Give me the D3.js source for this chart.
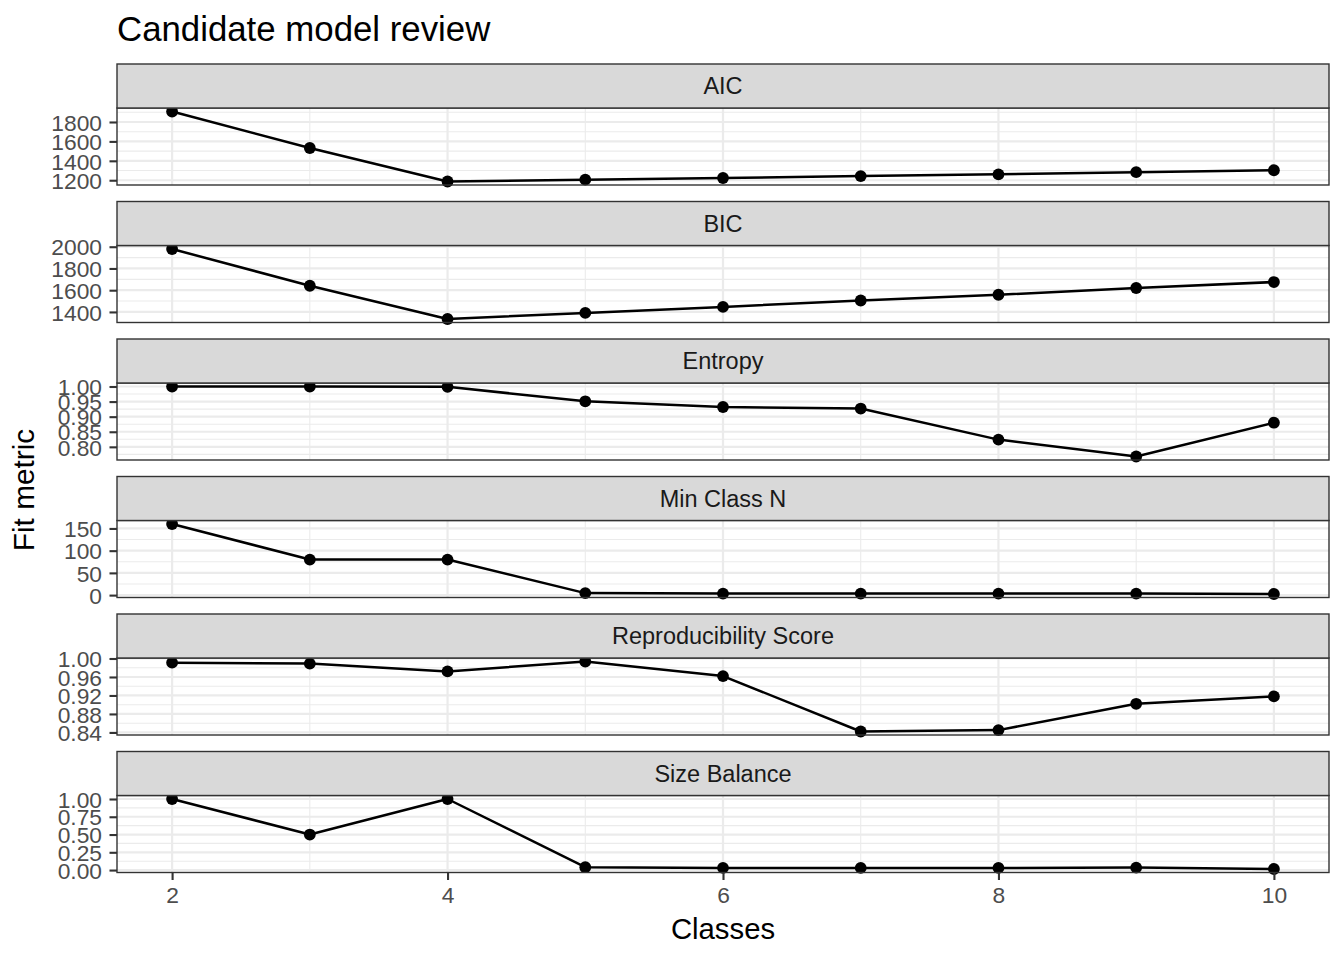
<!DOCTYPE html>
<html>
<head>
<meta charset="utf-8">
<script src="https://cdn.jsdelivr.net/npm/d3@7"></script>
<style>
  html, body { margin: 0; padding: 0; background: #ffffff; }
  svg { display: block; font-family: "Liberation Sans", Arial, Helvetica, sans-serif; }
</style>
</head>
<body>
<svg id="chart" width="1344" height="960"></svg>
<script>
// ---- data ----
const chartTitle = "Candidate model review";
const xTitle = "Classes";
const yTitle = "Fit metric";
const classes = [2, 3, 4, 5, 6, 7, 8, 9, 10];
const xTicks = [2, 4, 6, 8, 10];
const facetNames = ["AIC", "BIC", "Entropy", "Min Class N", "Reproducibility Score", "Size Balance"];

const aicValues = [1908, 1532, 1187, 1206, 1223, 1243, 1261, 1283, 1303];
const bicValues = [1979, 1641, 1335, 1391, 1446, 1505, 1558, 1620, 1675];
const entropyValues = [1.000, 1.000, 0.999, 0.951, 0.932, 0.927, 0.824, 0.768, 0.880];
const minClassValues = [160, 80, 80, 4.5, 3.5, 3.5, 3.5, 3.5, 2.5];
const reproValues = [0.991, 0.989, 0.972, 0.9935, 0.962, 0.842, 0.845, 0.902, 0.918];
const balanceValues = [1.00, 0.50, 1.00, 0.040, 0.030, 0.030, 0.030, 0.035, 0.015];

const aicTicks = [1200, 1400, 1600, 1800];
const bicTicks = [1400, 1600, 1800, 2000];
const entropyTicks = [0.80, 0.85, 0.90, 0.95, 1.00];
const minClassTicks = [0, 50, 100, 150];
const reproTicks = [0.84, 0.88, 0.92, 0.96, 1.00];
const balanceTicks = [0.00, 0.25, 0.50, 0.75, 1.00];

const seriesValues = [aicValues, bicValues, entropyValues, minClassValues, reproValues, balanceValues];
const seriesTicks = [aicTicks, bicTicks, entropyTicks, minClassTicks, reproTicks, balanceTicks];
const tickFormats = [d3.format("d"), d3.format("d"), d3.format(".2f"), d3.format("d"), d3.format(".2f"), d3.format(".2f")];

// ---- layout ----
const svg = d3.select("#chart");
const panelLeft = 117, panelRight = 1329;
const firstTop = 64, stripH = 44, panelH = 77, period = 137.5;
const gridCol = "#EBEBEB", borderCol = "#333333";
const tickFont = 22.8;

const xScale = d3.scaleLinear()
  .domain([2 - 0.05 * 8, 10 + 0.05 * 8])
  .range([panelLeft, panelRight]);

const xMinor = [3, 5, 7, 9];

function minorBreaks(major, domain) {
  const step = major[1] - major[0];
  const ext = [major[0] - step].concat(major, [major[major.length - 1] + step]);
  const out = [];
  for (let i = 0; i < ext.length - 1; i++) {
    const m = (ext[i] + ext[i + 1]) / 2;
    if (m >= domain[0] && m <= domain[1]) out.push(m);
  }
  return out;
}

facetNames.forEach((name, i) => {
  const vals = seriesValues[i];
  const stripTop = firstTop + i * period;
  const pTop = stripTop + stripH;
  const pBot = pTop + panelH;
  const [lo, hi] = d3.extent(vals);
  const pad = (hi - lo) * 0.05;
  const domain = [lo - pad, hi + pad];
  const y = d3.scaleLinear().domain(domain).range([pBot, pTop]);
  const g = svg.append("g");

  g.append("rect").attr("x", panelLeft).attr("y", pTop)
    .attr("width", panelRight - panelLeft).attr("height", panelH).attr("fill", "#fff");

  // minor grid
  g.selectAll(".ymin").data(minorBreaks(seriesTicks[i], domain)).enter().append("line")
    .attr("x1", panelLeft).attr("x2", panelRight)
    .attr("y1", d => y(d)).attr("y2", d => y(d))
    .attr("stroke", gridCol).attr("stroke-width", 1.1);
  g.selectAll(".xmin").data(xMinor).enter().append("line")
    .attr("y1", pTop).attr("y2", pBot)
    .attr("x1", d => xScale(d)).attr("x2", d => xScale(d))
    .attr("stroke", gridCol).attr("stroke-width", 1.1);
  // major grid
  g.selectAll(".ymaj").data(seriesTicks[i]).enter().append("line")
    .attr("x1", panelLeft).attr("x2", panelRight)
    .attr("y1", d => y(d)).attr("y2", d => y(d))
    .attr("stroke", gridCol).attr("stroke-width", 2.2);
  g.selectAll(".xmaj").data(xTicks).enter().append("line")
    .attr("y1", pTop).attr("y2", pBot)
    .attr("x1", d => xScale(d)).attr("x2", d => xScale(d))
    .attr("stroke", gridCol).attr("stroke-width", 2.2);

  // line + points
  const pts = classes.map((c, k) => [c, vals[k]]);
  g.append("path").datum(pts)
    .attr("d", d3.line().x(d => xScale(d[0])).y(d => y(d[1])))
    .attr("fill", "none").attr("stroke", "#000").attr("stroke-width", 2.5)
    .attr("stroke-linejoin", "round");
  g.selectAll(".pt").data(pts).enter().append("circle")
    .attr("cx", d => xScale(d[0])).attr("cy", d => y(d[1]))
    .attr("r", 5.9).attr("fill", "#000");

  // panel border
  g.append("rect").attr("x", panelLeft).attr("y", pTop)
    .attr("width", panelRight - panelLeft).attr("height", panelH)
    .attr("fill", "none").attr("stroke", borderCol).attr("stroke-width", 1.4);

  // strip
  g.append("rect").attr("x", panelLeft).attr("y", stripTop)
    .attr("width", panelRight - panelLeft).attr("height", stripH)
    .attr("fill", "#D9D9D9").attr("stroke", borderCol).attr("stroke-width", 1.4);
  g.append("text").attr("x", (panelLeft + panelRight) / 2).attr("y", stripTop + stripH / 2 + 8.3)
    .attr("text-anchor", "middle").attr("font-size", 23.5).attr("fill", "#1A1A1A").text(name);

  // y axis
  const yAxis = d3.axisLeft(y).tickValues(seriesTicks[i]).tickFormat(tickFormats[i])
    .tickSize(7.5).tickPadding(7.5);
  const ag = svg.append("g").attr("transform", `translate(${panelLeft},0)`).call(yAxis);
  ag.select(".domain").remove();
  ag.selectAll(".tick line").attr("stroke", borderCol).attr("stroke-width", 2.1);
  ag.selectAll(".tick text").attr("font-size", tickFont).attr("fill", "#4D4D4D")
    .attr("font-family", "'Liberation Sans', Arial, sans-serif").attr("dy", "0.36em");

  if (i === facetNames.length - 1) {
    const xAxis = d3.axisBottom(xScale).tickValues(xTicks).tickFormat(d3.format("d"))
      .tickSize(7.5).tickPadding(7);
    const xg = svg.append("g").attr("transform", `translate(0,${pBot})`).call(xAxis);
    xg.select(".domain").remove();
    xg.selectAll(".tick line").attr("stroke", borderCol).attr("stroke-width", 2.1);
    xg.selectAll(".tick text").attr("font-size", tickFont).attr("fill", "#4D4D4D")
      .attr("font-family", "'Liberation Sans', Arial, sans-serif").attr("dy", "0.71em");
  }
});

// titles
svg.append("text").attr("x", panelLeft).attr("y", 41)
  .attr("font-size", 34.8).attr("fill", "#000").text(chartTitle);
svg.append("text").attr("x", (panelLeft + panelRight) / 2).attr("y", 938.5)
  .attr("text-anchor", "middle").attr("font-size", 29.3).attr("fill", "#000").text(xTitle);
svg.append("text").attr("transform", "translate(34,490) rotate(-90)")
  .attr("text-anchor", "middle").attr("font-size", 29.8).attr("fill", "#000").text(yTitle);
</script>
</body>
</html>
